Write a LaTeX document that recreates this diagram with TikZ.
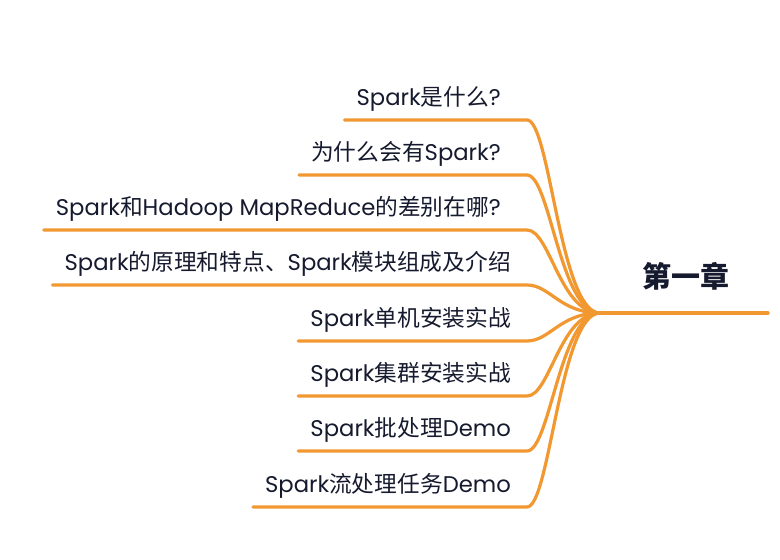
\documentclass[tikz,border=0pt]{standalone}
\usepackage{fontspec}
\setmainfont{Poppins}
\newfontfamily\cjk{Noto Sans CJK SC}
\newcommand{\zh}[1]{{\cjk #1}}
\definecolor{branchorange}{RGB}{242,152,48}
\definecolor{inkblue}{RGB}{22,26,46}
\begin{document}
\begin{tikzpicture}[x=1pt,y=-1pt,
  item/.style={anchor=south east, inner sep=0pt, text depth=14pt, text=inkblue, font=\fontsize{22.7}{27}\selectfont},
  branch/.style={draw=branchorange, line width=3.2pt, line cap=round},
  rootlabel/.style={inner sep=0pt, text=inkblue, font=\cjk\bfseries\fontsize{29}{34}\selectfont}]
\useasboundingbox[fill=white] (0,0) rectangle (780,560);
\coordinate (hub) at (600,313);
\coordinate (rootend) at (768,313);
\node[rootlabel] (root) at (686,276) {第一章};
\node[item] (b1) at (527,120) {\hspace*{12pt}Spark\zh{是什么}?\hspace*{26pt}};
\node[item] (b2) at (527,175) {\hspace*{12pt}\zh{为什么会有}Spark?\hspace*{26pt}};
\node[item] (b3) at (527,230) {\hspace*{12pt}Spark\zh{和}Hadoop MapReduce\zh{的差别在哪}?\hspace*{26pt}};
\node[item] (b4) at (527,285) {\hspace*{12pt}Spark\zh{的原理和特点、}Spark\zh{模块组成及介绍}\hspace*{16pt}};
\node[item] (b5) at (527,341) {\hspace*{12pt}Spark\zh{单机安装实战}\hspace*{16pt}};
\node[item] (b6) at (527,396) {\hspace*{12pt}Spark\zh{集群安装实战}\hspace*{16pt}};
\node[item] (b7) at (527,451) {\hspace*{12pt}Spark\zh{批处理}Demo\hspace*{16pt}};
\node[item] (b8) at (527,507) {\hspace*{12pt}Spark\zh{流处理任务}Demo\hspace*{16pt}};
\foreach \n in {b1,b2,b3,b4,b5,b6,b7,b8}
  \draw[branch] (\n.south west) -- (\n.south east) .. controls +(23,0) and (560,313) .. (hub);
\draw[branch] (hub) -- (rootend);
\end{tikzpicture}
\end{document}
